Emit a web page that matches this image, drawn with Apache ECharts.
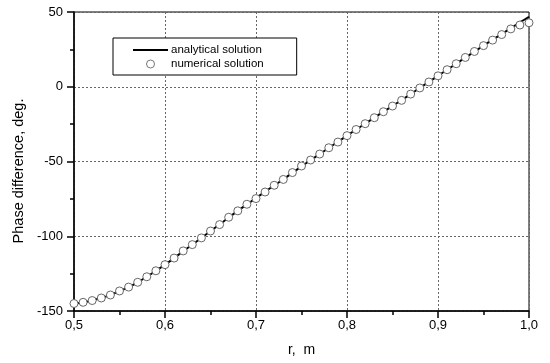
<!DOCTYPE html>
<html>
<head>
<meta charset="utf-8">
<script src="https://cdn.jsdelivr.net/npm/echarts@6/dist/echarts.min.js"></script>
<style>
html,body{margin:0;padding:0;background:#fff;}
#chart{width:550px;height:363px;}
</style>
</head>
<body>
<div id="chart"></div>
<script>
var radius = [0.50,0.51,0.52,0.53,0.54,0.55,0.56,0.57,0.58,0.59,
              0.60,0.61,0.62,0.63,0.64,0.65,0.66,0.67,0.68,0.69,
              0.70,0.71,0.72,0.73,0.74,0.75,0.76,0.77,0.78,0.79,
              0.80,0.81,0.82,0.83,0.84,0.85,0.86,0.87,0.88,0.89,
              0.90,0.91,0.92,0.93,0.94,0.95,0.96,0.97,0.98,0.99,1.00];
var analytical = [-145,-144.3,-143,-141.3,-139.2,-136.7,-134,-130.8,-127.1,-123.1,
                  -119,-114.6,-110,-105.6,-101.1,-96.6,-92.1,-87.5,-83,-78.7,
                  -74.5,-70.2,-66,-61.9,-57.6,-53.3,-49.1,-45,-40.9,-36.9,
                  -32.7,-28.6,-24.7,-20.7,-16.7,-12.8,-8.9,-4.9,-0.8,3.2,
                  7.3,11.4,15.4,19.5,23.5,27.5,31.4,35.3,39.2,43.0,46.8];
var numerical = [-145,-144.2,-143,-141.3,-139.3,-136.6,-134,-130.8,-127.1,-123.1,
                 -119,-114.6,-109.8,-105.6,-101.1,-96.5,-92.2,-87.3,-83,-78.6,
                 -74.8,-70.4,-65.9,-62,-57.4,-53,-49,-45,-40.8,-37,
                 -32.7,-28.6,-24.7,-20.7,-16.7,-12.9,-9.1,-4.9,-0.8,3.2,
                 7.3,11.4,15.4,19.6,23.6,27.5,31.2,34.9,38.7,41.3,42.8];
var yTicks = [-150,-100,-50,0,50];
var xTicks = [0.5,0.6,0.7,0.8,0.9,1.0];
var seriesNames = ['analytical solution','numerical solution'];
var xName = 'r,  m';
var yName = 'Phase difference, deg.';

function pairs(xs, ys){ return xs.map(function(x,i){ return [x, ys[i]]; }); }

var FONT = 'Liberation Sans, Arial, sans-serif';
var chart = echarts.init(document.getElementById('chart'), null, {renderer:'canvas'});
chart.setOption({
  animation:false,
  backgroundColor:'#fff',
  grid:{left:74, right:21, top:12, bottom:52, show:true, borderColor:'#000', borderWidth:1, backgroundColor:'transparent'},
  legend:{
    orient:'vertical', left:113, top:38,
    padding:[6,33,5,19], itemGap:2,
    itemWidth:35, itemHeight:8,
    borderColor:'#000', borderWidth:1, borderRadius:0,
    backgroundColor:'#fff',
    textStyle:{fontFamily:FONT, fontSize:11.5, color:'#000', padding:[0,0,0,-2]},
    data:[
      {name:seriesNames[0], itemStyle:{opacity:0}},
      {name:seriesNames[1], itemStyle:{color:'#fff', borderColor:'#777', borderWidth:1}}
    ]
  },
  xAxis:{
    type:'value', min:xTicks[0], max:xTicks[xTicks.length-1], interval:0.1,
    name:xName, nameLocation:'middle', nameGap:32,
    nameTextStyle:{fontFamily:FONT, fontSize:14, color:'#000'},
    axisLine:{onZero:false, lineStyle:{color:'#000', width:1.5}},
    axisTick:{show:true, inside:false, length:7, lineStyle:{color:'#000', width:1.5}},
    minorTick:{show:true, splitNumber:2, length:4, lineStyle:{color:'#000', width:1.5}},
    axisLabel:{fontFamily:FONT, fontSize:13, color:'#000', margin:8,
      formatter:function(v){ return v.toFixed(1).replace('.', ','); }},
    splitLine:{show:true, lineStyle:{color:'#666', width:1, type:[2,2]}}
  },
  yAxis:{
    type:'value', min:yTicks[0], max:yTicks[yTicks.length-1], interval:50,
    name:yName, nameLocation:'middle', nameGap:37, nameRotate:90,
    nameTextStyle:{fontFamily:FONT, fontSize:14.5, color:'#000', padding:[0,19,0,0]},
    axisLine:{onZero:false, lineStyle:{color:'#000', width:1.5}},
    axisTick:{show:true, inside:false, length:7, lineStyle:{color:'#000', width:1.5}},
    minorTick:{show:true, splitNumber:2, length:4, lineStyle:{color:'#000', width:1.5}},
    axisLabel:{fontFamily:FONT, fontSize:13, color:'#000', margin:11},
    splitLine:{show:true, lineStyle:{color:'#666', width:1, type:[2,2]}}
  },
  series:[
    {
      name:seriesNames[0], type:'line', symbol:'none', z:2,
      smooth:0.3,
      lineStyle:{color:'#000', width:2},
      itemStyle:{color:'#000'},
      data:pairs(radius, analytical)
    },
    {
      name:seriesNames[1], type:'scatter', symbol:'circle', symbolSize:8, z:3,
      itemStyle:{color:'#fff', borderColor:'#666', borderWidth:1, opacity:1},
      data:pairs(radius, numerical)
    }
  ]
});
</script>
</body>
</html>
